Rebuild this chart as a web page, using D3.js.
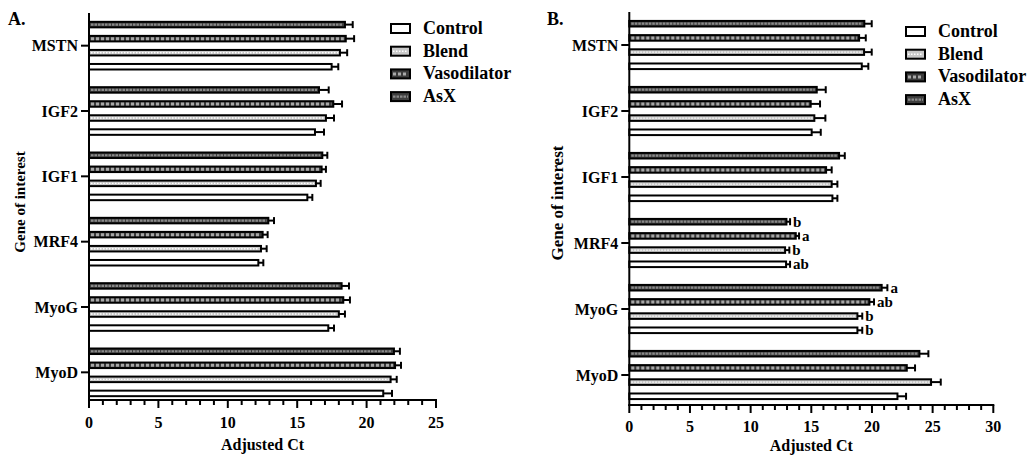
<!DOCTYPE html>
<html>
  <head>
    <meta charset="utf-8" />
    <title>Adjusted Ct by gene</title>
    <script src="https://d3js.org/d3.v7.min.js"></script>
    <style>
      body { margin: 0; background: white; }
      svg text { font-family: "Liberation Serif", "Times New Roman", serif; font-weight: bold; fill: black; }
    </style>
  </head>
  <body>
    <svg id="chart" width="1031" height="458"></svg>
  </body>
  <script>
    // genes top to bottom, groups top to bottom inside each gene
    var genes = ["MSTN", "IGF2", "IGF1", "MRF4", "MyoG", "MyoD"];
    var groups = ["AsX", "Vasodilator", "Blend", "Control"];
    var legendOrder = ["Control", "Blend", "Vasodilator", "AsX"];

    // panel A means and SEM (per gene)
    var aControl = [17.48, 16.28, 15.73, 12.20, 17.24, 21.20];
    var aBlend = [18.08, 17.07, 16.35, 12.39, 18.00, 21.73];
    var aVaso = [18.50, 17.60, 16.76, 12.51, 18.32, 22.05];
    var aAsX = [18.44, 16.57, 16.81, 12.92, 18.20, 21.97];
    var aControlErr = [0.48, 0.65, 0.36, 0.36, 0.41, 0.63];
    var aBlendErr = [0.52, 0.58, 0.34, 0.41, 0.44, 0.44];
    var aVasoErr = [0.60, 0.63, 0.31, 0.36, 0.48, 0.43];
    var aAsXErr = [0.56, 0.70, 0.36, 0.41, 0.53, 0.43];

    // panel B means and SEM
    var bControl = [19.16, 15.03, 16.74, 12.92, 18.80, 22.10];
    var bBlend = [19.35, 15.25, 16.68, 12.84, 18.80, 24.87];
    var bVaso = [18.94, 14.95, 16.22, 13.72, 19.79, 22.87];
    var bAsX = [19.37, 15.45, 17.29, 12.95, 20.80, 23.91];
    var bControlErr = [0.54, 0.75, 0.41, 0.33, 0.40, 0.71];
    var bBlendErr = [0.63, 0.91, 0.47, 0.35, 0.40, 0.80];
    var bVasoErr = [0.55, 0.77, 0.46, 0.27, 0.38, 0.68];
    var bAsXErr = [0.61, 0.74, 0.47, 0.30, 0.47, 0.74];

    // significance letters in panel B
    var bControlSig = ["", "", "", "ab", "b", ""];
    var bBlendSig = ["", "", "", "b", "b", ""];
    var bVasoSig = ["", "", "", "a", "ab", ""];
    var bAsXSig = ["", "", "", "b", "a", ""];

    var xTicksA = [0, 5, 10, 15, 20, 25];
    var xTicksB = [0, 5, 10, 15, 20, 25, 30];

    var svg = d3.select("#chart");

    var fills = {Control: "white", Blend: "#c9c9c9", Vasodilator: "#3a3a3a", AsX: "#3f3f3f"};
    var texColor = {Blend: "white", Vasodilator: "#a8a8a8", AsX: "#8a8a8a"};
    var texWidth = {Blend: 1.4, Vasodilator: 3, AsX: 2.2};
    var texDash = {Blend: "1.5,1.5", Vasodilator: "3,2", AsX: "2.5,1"};

    var buildRows = function(series){
      var rows = [];
      genes.forEach(function(g, i){
        groups.forEach(function(grp){
          var s = series[grp];
          rows.push({gene: g, group: grp, value: s.v[i], err: s.e[i], sig: s.s ? s.s[i] : ""});
        });
      });
      return rows;
    };

    var drawPanel = function(p){
      var g = svg.append("g");
      var x = d3.scaleLinear().domain([0, p.xMax]).range([p.x0, p.x1]);
      var y = d3.scaleBand().domain(genes).range([p.yTop, p.yBottom])
        .paddingInner(0.14).paddingOuter(0.07);
      var ySub = d3.scaleBand().domain(groups).range([0, y.bandwidth()])
        .paddingInner(0.5).paddingOuter(0.25);
      var rows = buildRows(p.series);
      var cy = function(d){ return y(d.gene) + ySub(d.group) + ySub.bandwidth() / 2; };

      // bars
      g.selectAll(".bar").data(rows).enter().append("rect")
        .attr("class", "bar")
        .attr("x", x(0))
        .attr("y", function(d){ return y(d.gene) + ySub(d.group) + 0.75; })
        .attr("width", function(d){ return x(d.value) - x(0); })
        .attr("height", ySub.bandwidth() - 1.5)
        .attr("fill", function(d){ return fills[d.group]; })
        .attr("stroke", "black")
        .attr("stroke-width", 2);

      // texture inside bars
      g.selectAll(".tex").data(rows.filter(function(d){ return d.group !== "Control"; })).enter().append("line")
        .attr("class", "tex")
        .attr("x1", x(0) + 2)
        .attr("x2", function(d){ return x(d.value) - 2; })
        .attr("y1", cy).attr("y2", cy)
        .attr("stroke", function(d){ return texColor[d.group]; })
        .attr("stroke-width", function(d){ return texWidth[d.group]; })
        .attr("stroke-dasharray", function(d){ return texDash[d.group]; });

      // error bars
      g.selectAll(".err").data(rows).enter().append("line")
        .attr("class", "err")
        .attr("x1", function(d){ return x(d.value); })
        .attr("x2", function(d){ return x(d.value + d.err); })
        .attr("y1", cy).attr("y2", cy)
        .attr("stroke", "black").attr("stroke-width", 2);
      g.selectAll(".cap").data(rows).enter().append("line")
        .attr("class", "cap")
        .attr("x1", function(d){ return x(d.value + d.err); })
        .attr("x2", function(d){ return x(d.value + d.err); })
        .attr("y1", function(d){ return cy(d) - 3.5; })
        .attr("y2", function(d){ return cy(d) + 3.5; })
        .attr("stroke", "black").attr("stroke-width", 2);

      // letters
      g.selectAll(".sig").data(rows.filter(function(d){ return d.sig; })).enter().append("text")
        .attr("class", "sig")
        .attr("x", function(d){ return x(d.value + d.err) + 3; })
        .attr("y", function(d){ return cy(d) + 5; })
        .attr("font-size", 15)
        .text(function(d){ return d.sig; });

      // x axis
      var xMinor = d3.range(0, p.xMax + 1);
      var xa = g.append("g").attr("transform", "translate(0," + p.xAxisY + ")");
      xa.append("line").attr("x1", x(0) - 1).attr("x2", x(p.xMax) + 1)
        .attr("stroke", "black").attr("stroke-width", 2);
      xa.selectAll(".minor").data(xMinor).enter().append("line")
        .attr("x1", x).attr("x2", x).attr("y1", 0)
        .attr("y2", function(d){ return d % 5 === 0 ? 8 : 5; })
        .attr("stroke", "black").attr("stroke-width", 2);
      xa.selectAll(".tl").data(p.xTicks).enter().append("text")
        .attr("x", x).attr("y", p.tickLabelDy)
        .attr("text-anchor", "middle").attr("font-size", 16)
        .text(function(d){ return d; });

      // y axis
      var ya = g.append("g");
      ya.append("line").attr("x1", x(0)).attr("x2", x(0))
        .attr("y1", p.yTop).attr("y2", p.xAxisY + 1)
        .attr("stroke", "black").attr("stroke-width", 2);
      ya.selectAll(".yt").data(genes).enter().append("line")
        .attr("x1", x(0) - 8).attr("x2", x(0))
        .attr("y1", function(d){ return y(d) + y.bandwidth() / 2; })
        .attr("y2", function(d){ return y(d) + y.bandwidth() / 2; })
        .attr("stroke", "black").attr("stroke-width", 2);
      ya.selectAll(".yl").data(genes).enter().append("text")
        .attr("x", x(0) - 11)
        .attr("y", function(d){ return y(d) + y.bandwidth() / 2 + 5.5; })
        .attr("text-anchor", "end").attr("font-size", 16)
        .text(function(d){ return d; });

      // titles
      g.append("text").attr("x", (p.x0 + x(p.xMax)) / 2).attr("y", p.xTitleY)
        .attr("text-anchor", "middle").attr("font-size", 16).text("Adjusted Ct");
      g.append("text")
        .attr("transform", "translate(" + p.yTitleX + "," + p.yTitleY + ") rotate(-90)")
        .attr("text-anchor", "middle").attr("font-size", p.yTitleSize)
        .text("Gene of interest");
      g.append("text").attr("x", p.labelX).attr("y", 25).attr("font-size", 18).text(p.label);

      // legend
      var lRow = g.append("g").selectAll(".lr").data(legendOrder).enter().append("g")
        .attr("transform", function(d, i){ return "translate(" + p.legendX + "," + (p.legendY + i * 22.7) + ")"; });
      lRow.append("rect").attr("x", 0).attr("y", -10).attr("width", 19).attr("height", 9)
        .attr("fill", function(d){ return fills[d]; })
        .attr("stroke", "black").attr("stroke-width", 2);
      lRow.filter(function(d){ return d !== "Control"; }).append("line")
        .attr("x1", 2).attr("x2", 17).attr("y1", -5.5).attr("y2", -5.5)
        .attr("stroke", function(d){ return texColor[d]; })
        .attr("stroke-width", function(d){ return texWidth[d]; })
        .attr("stroke-dasharray", function(d){ return texDash[d]; });
      lRow.append("text").attr("x", 32).attr("y", 0).attr("font-size", 18)
        .text(function(d){ return d; });
    };

    drawPanel({
      label: "A.", labelX: 8,
      xMax: 25, xTicks: xTicksA, x0: 89, x1: 436,
      yTop: 13, yBottom: 405, xAxisY: 400, tickLabelDy: 28, xTitleY: 450,
      yTitleX: 24.5, yTitleY: 202, yTitleSize: 15,
      legendX: 391, legendY: 34,
      series: {
        Control: {v: aControl, e: aControlErr},
        Blend: {v: aBlend, e: aBlendErr},
        Vasodilator: {v: aVaso, e: aVasoErr},
        AsX: {v: aAsX, e: aAsXErr}
      }
    });
    drawPanel({
      label: "B.", labelX: 547,
      xMax: 30, xTicks: xTicksB, x0: 629.3, x1: 993.3,
      yTop: 12, yBottom: 408, xAxisY: 405, tickLabelDy: 27, xTitleY: 451,
      yTitleX: 563, yTitleY: 203, yTitleSize: 17,
      legendX: 906, legendY: 37,
      series: {
        Control: {v: bControl, e: bControlErr, s: bControlSig},
        Blend: {v: bBlend, e: bBlendErr, s: bBlendSig},
        Vasodilator: {v: bVaso, e: bVasoErr, s: bVasoSig},
        AsX: {v: bAsX, e: bAsXErr, s: bAsXSig}
      }
    });
  </script>
</html>
